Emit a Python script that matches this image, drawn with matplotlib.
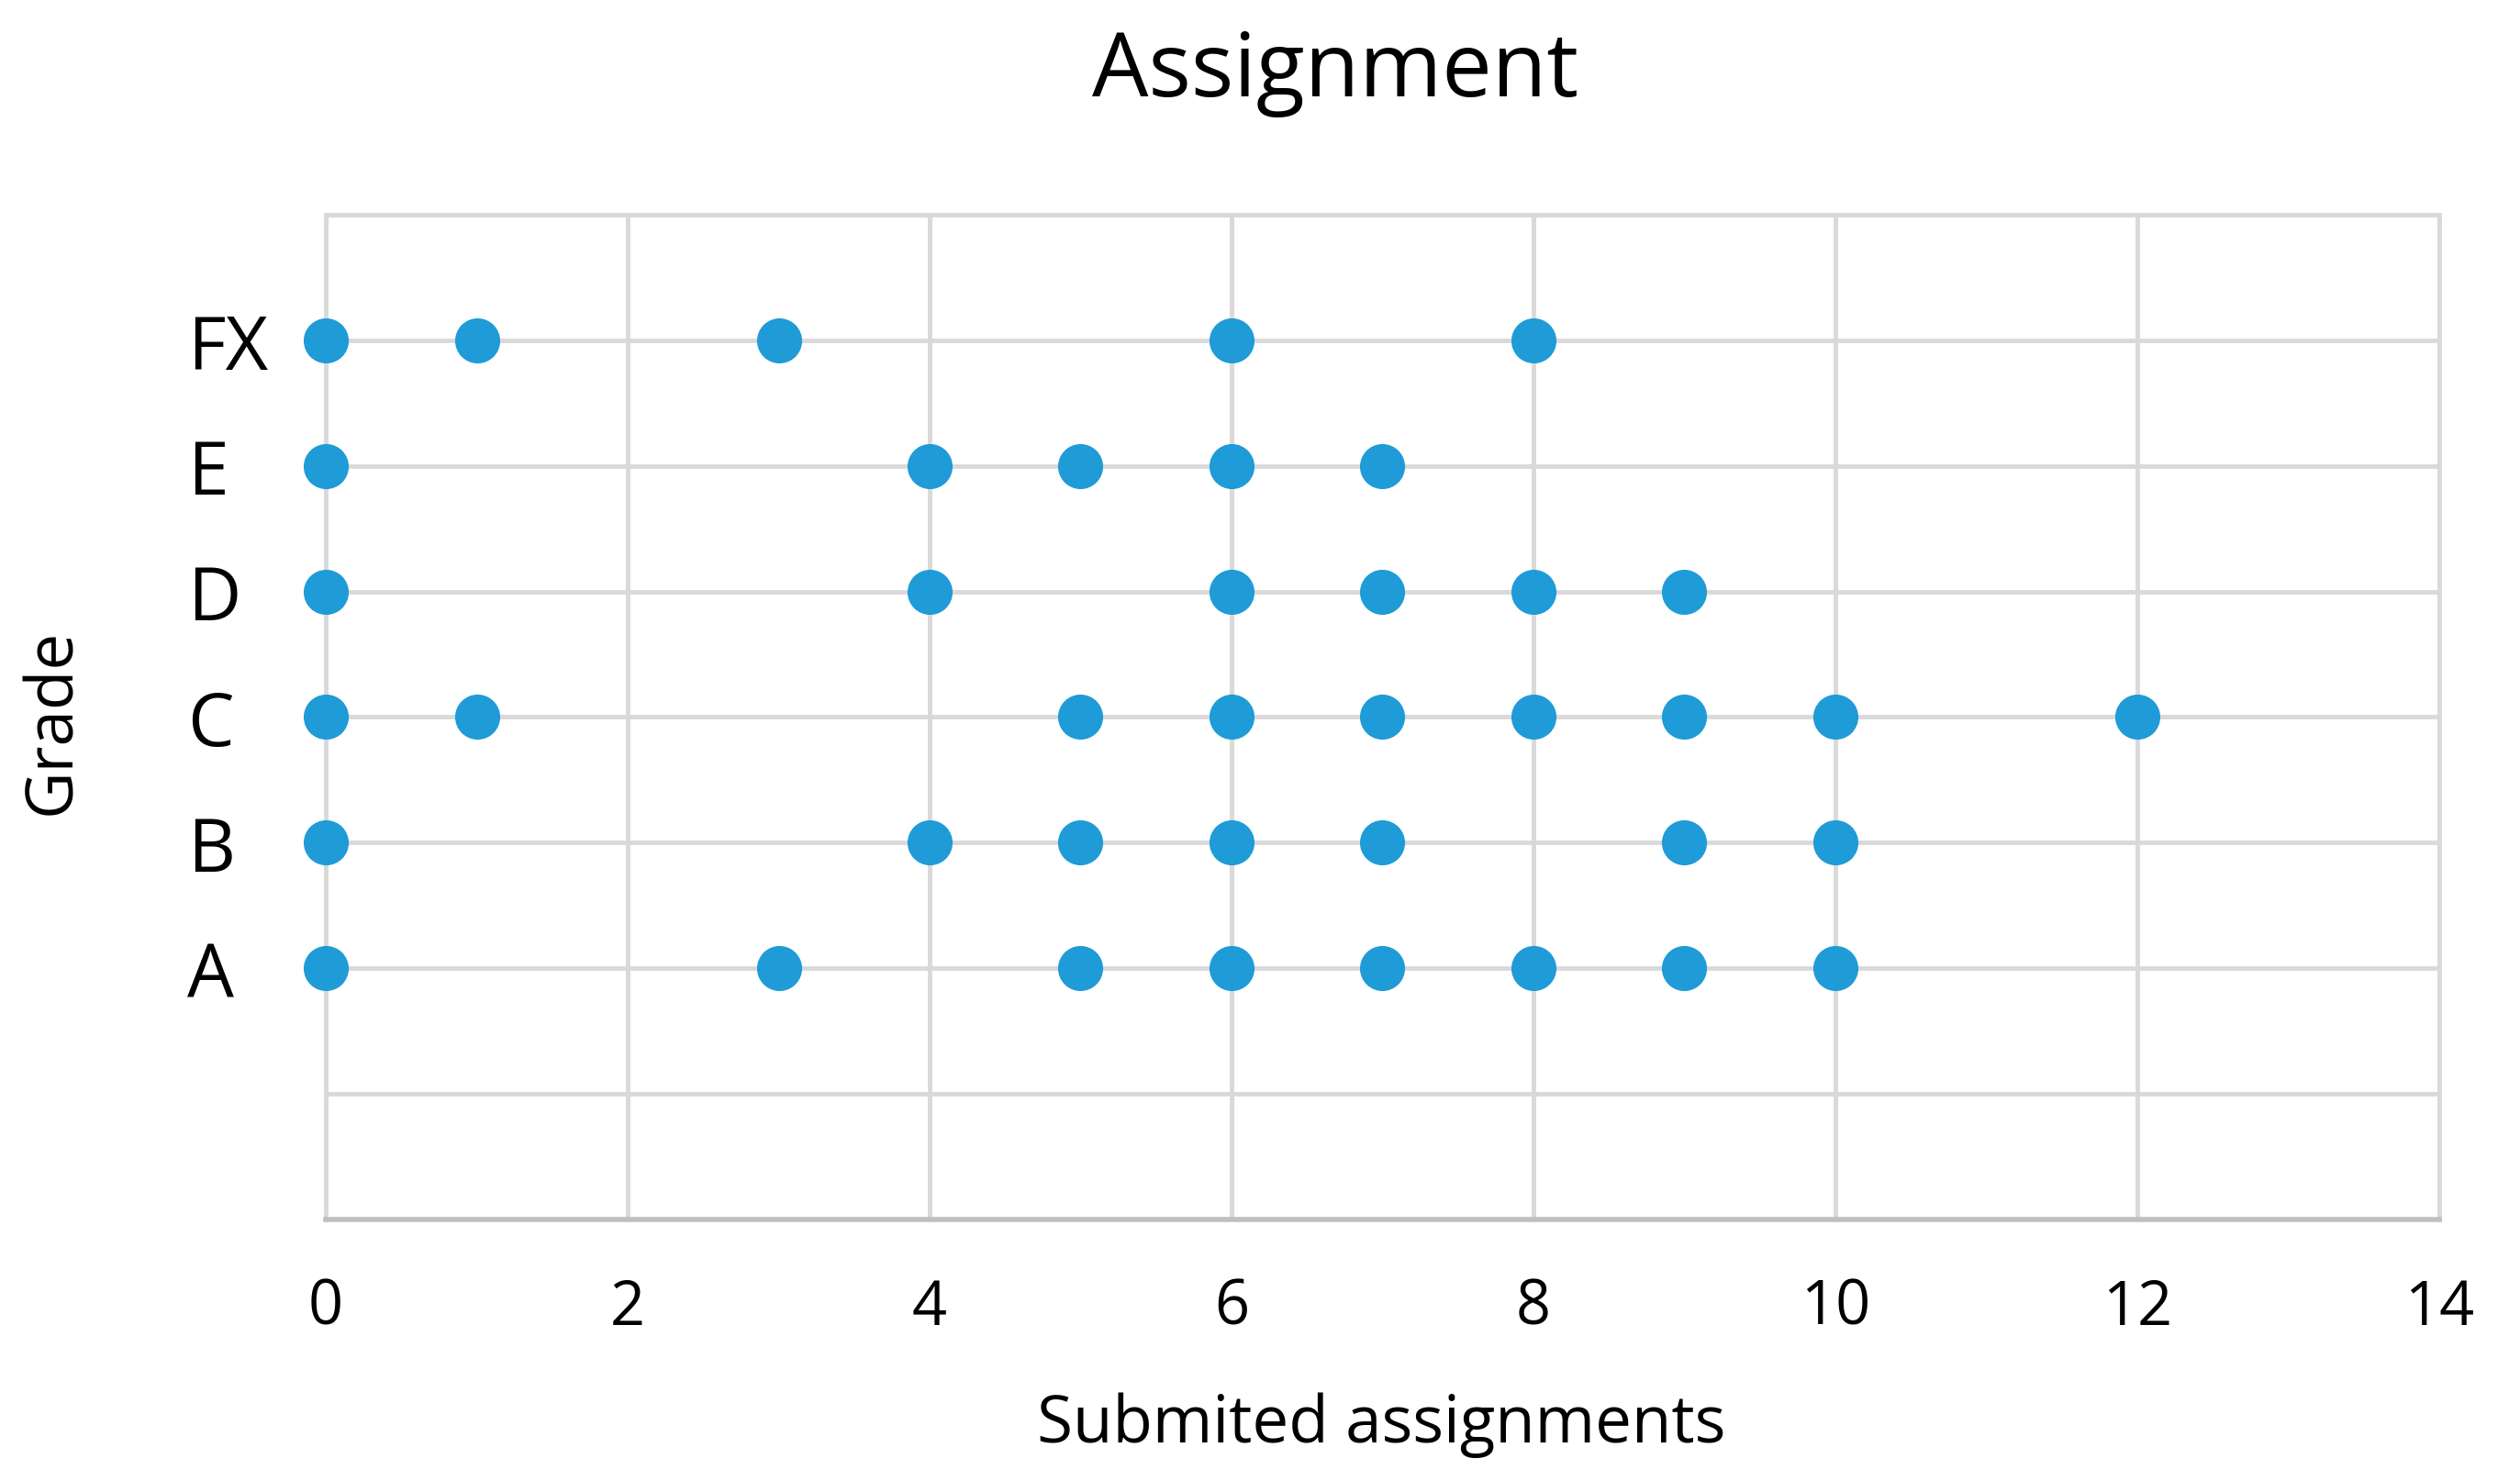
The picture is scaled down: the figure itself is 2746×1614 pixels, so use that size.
import matplotlib
matplotlib.use("Agg")
import matplotlib.pyplot as plt

grades = ["A", "B", "C", "D", "E", "FX"]
grade_pos = [2, 3, 4, 5, 6, 7]
submitted = {
    "A": [0, 3, 5, 6, 7, 8, 9, 10],
    "B": [0, 4, 5, 6, 7, 9, 10],
    "C": [0, 1, 5, 6, 7, 8, 9, 10, 12],
    "D": [0, 4, 6, 7, 8, 9],
    "E": [0, 4, 5, 6, 7],
    "FX": [0, 1, 3, 6, 8],
}
x_ticks = [0, 2, 4, 6, 8, 10, 12, 14]

plt.rcParams['font.family'] = ['Open Sans', 'DejaVu Sans']
fig = plt.figure(figsize=(27.46, 16.15), dpi=100)
ax = fig.add_axes([0.1293, 0.1765, 0.9679 - 0.1293, 0.8545 - 0.1765])

grid_c = "#d9d9d9"
for g, yp in zip(grades, grade_pos):
    xs = submitted[g]
    ax.scatter(xs, [yp] * len(xs), s=1250, color="#1f9bd7", zorder=3,
               linewidths=0, clip_on=False)

ax.set_xlim(0, 14)
ax.set_ylim(0, 8)
ax.set_xticks(x_ticks)
ax.set_xticklabels([str(t) for t in x_ticks], fontsize=48)
ax.set_yticks(range(0, 9), minor=True)
ax.set_yticks(grade_pos)
ax.set_yticklabels(grades, fontsize=58, ha="left")
ax.tick_params(axis="y", which="both", length=0, pad=109)
ax.tick_params(axis="x", length=0, pad=45)
ax.grid(True, which="both", axis="y", color=grid_c, linewidth=3.5, zorder=0)
ax.grid(True, which="major", axis="x", color=grid_c, linewidth=3.5, zorder=0)
for s in ["top", "right", "left"]:
    ax.spines[s].set_color(grid_c)
    ax.spines[s].set_linewidth(3.5)
ax.spines["bottom"].set_color("#bfbfbf")
ax.spines["bottom"].set_linewidth(4)
ax.set_axisbelow(True)

fig.text(0.530, 0.951, "Assignment", fontsize=70, ha="center", va="center")
fig.text(0.548, 0.038, "Submited assignments", fontsize=51, ha="center", va="center")
fig.text(0.021, 0.513, "Grade", fontsize=51, ha="center", va="center", rotation=90)

fig.savefig("out.png", dpi=100, facecolor="white")
